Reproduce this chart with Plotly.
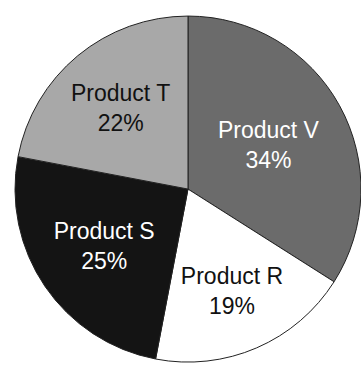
import plotly.graph_objects as go

# Product share, listed clockwise from 12 o'clock
products = ["Product V", "Product R", "Product S", "Product T"]
shares = [34, 19, 25, 22]
slice_colors = ["#6b6b6b", "#ffffff", "#141414", "#a8a8a8"]
text_colors = ["#ffffff", "#111111", "#ffffff", "#111111"]

fig = go.Figure(
    go.Pie(
        labels=products,
        values=shares,
        sort=False,
        direction="clockwise",
        rotation=0,
        marker=dict(colors=slice_colors, line=dict(color="#222222", width=1)),
        textinfo="label+percent",
        textposition="inside",
        insidetextorientation="horizontal",
        insidetextfont=dict(family="Liberation Sans, Arial, sans-serif", size=23, color=text_colors),
        hoverinfo="label+percent",
        domain=dict(x=[0.0415, 1.0], y=[0.008, 0.956]),
        showlegend=False,
    )
)

fig.update_layout(
    width=361,
    height=365,
    margin=dict(l=0, r=0, t=0, b=0),
    paper_bgcolor="#ffffff",
    plot_bgcolor="#ffffff",
    uniformtext=dict(minsize=23, mode="show"),
)

fig.write_html("out.html")
